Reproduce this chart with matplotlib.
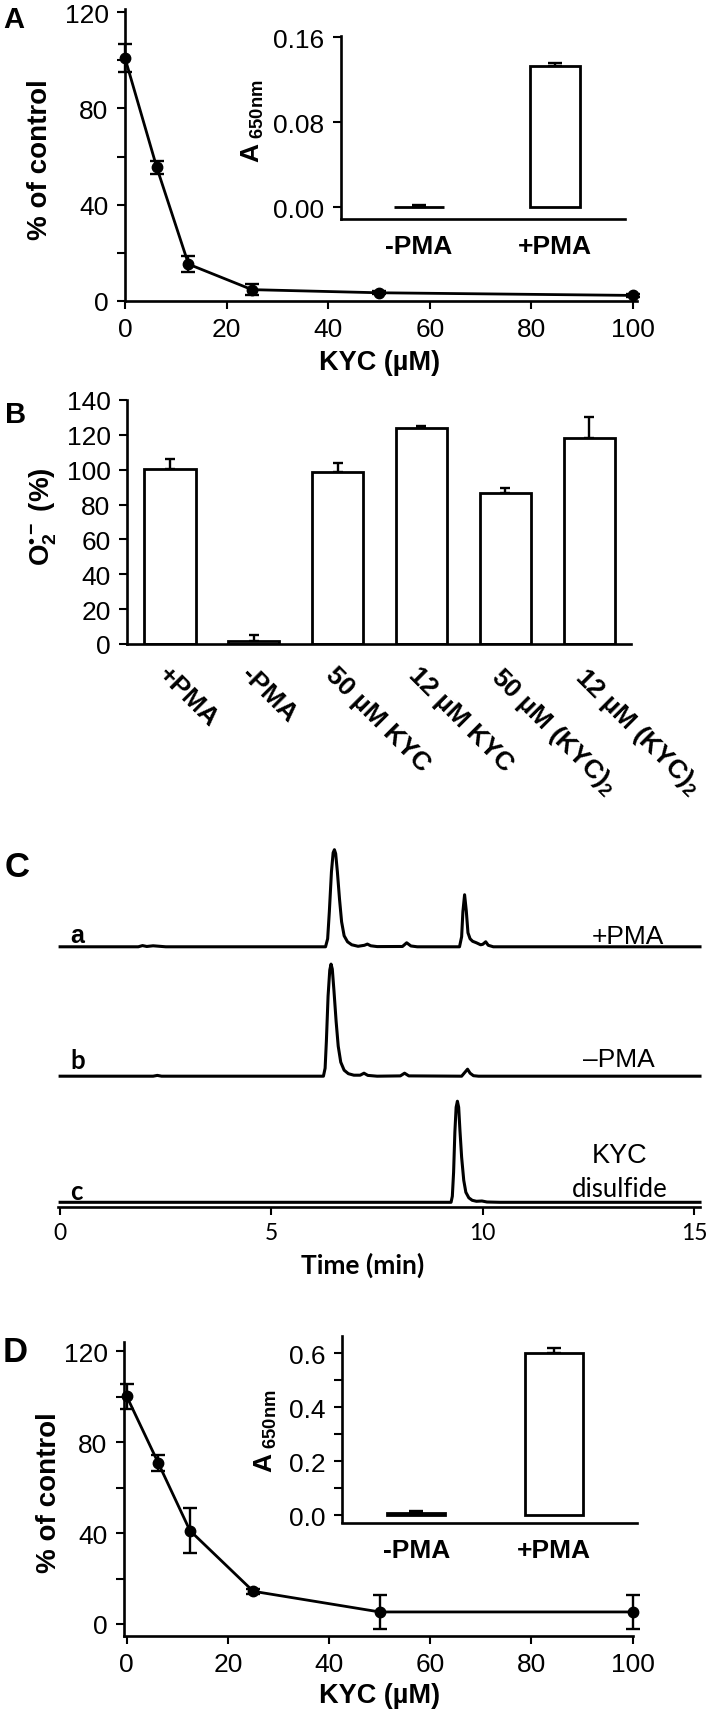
import numpy as np
import matplotlib
matplotlib.use('Agg')
import matplotlib.pyplot as plt

plt.rcParams['font.family'] = ['Liberation Sans', 'DejaVu Sans']
plt.rcParams['mathtext.fontset'] = 'custom'
plt.rcParams['mathtext.rm'] = 'Liberation Sans'
plt.rcParams['mathtext.bf'] = 'Liberation Sans:bold'
plt.rcParams['mathtext.it'] = 'Liberation Sans:italic'

W, H = 710, 1715

# ---- panel A : dose response + inset ----
kyc_a = [0, 6.25, 12.5, 25, 50, 100]
pct_a = [101, 55.5, 15.2, 4.6, 3.3, 2.2]
err_a = [5.8, 2.8, 3.4, 2.3, 0.6, 0.5]
inset_labels = ['-PMA', '+PMA']
inset_a_val = [0.0005, 0.1333]
inset_a_err = [0.0018, 0.0025]

# ---- panel B : superoxide bars ----
b_labels = ['+PMA', '-PMA', '50 µM KYC', '12 µM KYC',
            '50 µM (KYC)$_\\mathbf{2}$', '12 µM (KYC)$_\\mathbf{2}$']
b_val = [100.5, 2.0, 98.5, 124.2, 86.6, 118.1]
b_err = [5.7, 3.3, 5.2, 0.6, 2.7, 11.9]

# ---- panel C : HPLC traces (time in min, signal in arbitrary units) ----
trace_a_t = [0, 1.85, 1.95, 2.05, 2.2, 2.35, 2.5, 6.28, 6.33, 6.37, 6.42, 6.46,
             6.49, 6.52, 6.56, 6.61, 6.66, 6.72, 6.8, 6.9, 7.05, 7.2, 7.27, 7.35,
             7.5, 8.1, 8.2, 8.3, 8.45, 9.45, 9.5, 9.53, 9.57, 9.61, 9.65, 9.7,
             9.76, 9.85, 9.95, 10.0, 10.07, 10.13, 10.25, 15.14]
trace_a_s = [0, 0, 1.2, 0.3, 1.0, 0.5, 0, 0, 8, 35, 75, 94,
             97, 93, 75, 48, 25, 11, 5, 2, 0.5, 1.5, 2.7, 1,
             0.2, 0.3, 4, 0.8, 0, 0, 10, 35, 52, 36, 14, 8,
             5.5, 4, 2, 2.5, 5, 1.5, 0, 0]
trace_b_t = [0, 2.2, 2.3, 2.4, 6.23, 6.27, 6.3, 6.34, 6.38, 6.41, 6.44, 6.48,
             6.53, 6.58, 6.64, 6.72, 6.82, 6.95, 7.1, 7.19, 7.28, 7.5, 8.05,
             8.15, 8.25, 9.5, 9.58, 9.64, 9.7, 9.78, 9.9, 15.14]
trace_b_s = [0, 0, 0.8, 0, 0, 8, 35, 80, 106, 112, 107, 85,
             55, 30, 14, 6, 2.5, 1, 1, 3, 0.8, 0, 0.3,
             3, 0.3, 0, 4, 7, 3, 0.5, 0, 0]
trace_c_t = [0, 9.25, 9.28, 9.31, 9.34, 9.37, 9.4, 9.43, 9.46, 9.5, 9.55, 9.6,
             9.67, 9.75, 9.85, 9.98, 10.1, 10.4, 15.14]
trace_c_s = [0, 0, 6, 30, 70, 95, 101, 95, 72, 45, 22, 10,
             4.5, 2, 1, 1.3, 0.3, 0, 0]
trace_offsets = [255.3, 126.0, 0.0]

# ---- panel D : dose response + inset ----
kyc_d = [0, 6.25, 12.5, 25, 50, 100]
pct_d = [100.2, 70.8, 41.1, 14.4, 5.3, 5.3]
err_d = [5.5, 3.5, 10.0, 1.0, 7.3, 7.6]
inset_d_val = [0.01, 0.60]
inset_d_err = [0.006, 0.02]

fig = plt.figure(figsize=(W / 100, H / 100), dpi=100)


def box(l, t, r, b):
    return [l / W, 1 - b / H, (r - l) / W, (b - t) / H]


def ftext(x, y, s, **kw):
    return fig.text(x / W, 1 - y / H, s, **kw)


def clean(ax):
    for s in ['top', 'right']:
        ax.spines[s].set_visible(False)
    for s in ax.spines.values():
        s.set_linewidth(1.9)
    ax.tick_params(which='both', direction='out', length=5.8, width=1.5,
                   labelsize=19, pad=6)
    ax.patch.set_alpha(0)


def noclip(cont):
    for art in cont.get_children():
        art.set_clip_on(False)


def dose_panel(rect, xl, yl, x, y, e):
    ax = fig.add_axes(rect)
    clean(ax)
    c = ax.errorbar(x, y, yerr=e, fmt='-o', color='k', ms=7.5, lw=2.0,
                    elinewidth=1.7, capsize=4.7, capthick=1.7)
    noclip(c)
    ax.set_xlim(*xl)
    ax.set_ylim(*yl)
    ax.set_xticks([0, 20, 40, 60, 80, 100])
    ax.set_yticks([0, 40, 80, 120])
    ax.set_yticks([20, 60, 100], minor=True)
    return ax


def bar_inset(rect, xl, yl, vals, errs, width):
    ax = fig.add_axes(rect)
    clean(ax)
    ax.bar([0, 1], vals, width=width, color='white', edgecolor='k', lw=2.0,
           zorder=2)
    c = ax.errorbar([0, 1], vals, yerr=[[0, 0], errs], fmt='none', ecolor='k',
                    elinewidth=1.7, capsize=4.7, capthick=1.7, zorder=1)
    noclip(c)
    ax.set_xlim(*xl)
    ax.set_ylim(*yl)
    ax.set_xticks([0, 1])
    ax.set_xticklabels(inset_labels, fontweight='bold')
    ax.tick_params(axis='x', length=0, pad=11)
    return ax


# ===== A =====
axA = dose_panel(box(125, 10, 637, 301.7), (0, 100.8), (0, 121.4),
                 kyc_a, pct_a, err_a)
axAi = bar_inset(box(341, 36.7, 625, 220), (-0.574, 1.515), (-0.011, 0.1615),
                 inset_a_val, inset_a_err, 0.37)
axAi.set_yticks([0, 0.08, 0.16])
axAi.set_yticklabels(['0.00', '0.08', '0.16'])
ftext(3, 28, 'A', fontsize=21, fontweight='bold', va='baseline')
ftext(380, 370, 'KYC (µM)', fontsize=19.5, fontweight='bold', ha='center',
      va='baseline')
ftext(40, 160, '% of control', fontsize=20, fontweight='bold', rotation=90,
      ha='center', va='center')
ftext(253, 121.5, r'$\mathbf{A}_{\ \mathbf{650nm}}$', fontsize=19, rotation=90,
      ha='center', va='center')

# ===== B =====
axB = fig.add_axes(box(127, 401, 631, 645))
clean(axB)
xb = np.arange(len(b_val))
axB.bar(xb, b_val, width=0.61, color='white', edgecolor='k', lw=2.0, zorder=2)
c = axB.errorbar(xb, b_val, yerr=[np.zeros(len(b_err)), b_err], fmt='none',
                 ecolor='k', elinewidth=1.7, capsize=3.8, capthick=1.7, zorder=1)
noclip(c)
axB.set_xlim(-0.513, 5.5)
axB.set_ylim(0, 140)
axB.set_yticks(np.arange(0, 141, 20))
axB.set_xticks(xb)
axB.set_xticklabels(b_labels, rotation=-45, ha='left', va='top',
                    rotation_mode='anchor', fontweight='bold')
axB.tick_params(axis='x', length=0, pad=13)
ftext(5, 423, 'B', fontsize=21, fontweight='bold', va='baseline')
ftext(43, 517, r'$\mathbf{O}_{\mathbf{2}}^{\mathbf{•-}}$ (%)', fontsize=20,
      fontweight='bold', rotation=90, ha='center', va='center')

# ===== C =====
axC = fig.add_axes(box(58, 840, 700, 1208.3))
for s in ['top', 'right', 'left']:
    axC.spines[s].set_visible(False)
axC.spines['bottom'].set_linewidth(1.9)
for tt, ss, off in zip([trace_a_t, trace_b_t, trace_c_t],
                       [trace_a_s, trace_b_s, trace_c_s], trace_offsets):
    axC.plot(tt, np.array(ss) + off, color='k', lw=2.2,
             solid_joinstyle='round', clip_on=False)
axC.set_xlim(-0.05, 15.14)
axC.set_ylim(-5, 363)
axC.set_yticks([])
axC.set_xticks([0, 5, 10, 15])
axC.tick_params(axis='x', direction='out', length=5.8, width=1.5,
                labelsize=16.5, pad=5, labelfontfamily='Lato')
axC.patch.set_alpha(0)
ftext(5, 877, 'C', fontsize=25, fontweight='bold', va='baseline')
ftext(363, 1274, 'Time (min)', fontsize=19, fontweight='bold', ha='center',
      va='baseline', family='Lato')
ftext(70, 943, 'a', fontsize=18, fontweight='bold', va='baseline')
ftext(70, 1069, 'b', fontsize=18.5, fontweight='bold', va='baseline',
      family='Lato')
ftext(70, 1200, 'c', fontsize=18.5, fontweight='bold', va='baseline',
      family='Lato')
ftext(664, 944, '+PMA', fontsize=19, ha='right', va='baseline')
ftext(655, 1067, '–PMA', fontsize=19, ha='right', va='baseline')
ftext(620, 1163, 'KYC', fontsize=19.5, ha='center', va='baseline')
ftext(620, 1197, 'disulfide', fontsize=18.5, ha='center', va='baseline',
      family='Lato')

# ===== D =====
axD = dose_panel(box(124, 1342.7, 632.7, 1636.7), (-0.53, 100.0),
                 (-5.15, 124.2), kyc_d, pct_d, err_d)
axDi = bar_inset(box(341.7, 1336.7, 637, 1523.5), (-0.54, 1.60),
                 (-0.026, 0.664), inset_d_val, inset_d_err, 0.42)
axDi.set_yticks([0, 0.2, 0.4, 0.6])
axDi.set_yticklabels(['0.0', '0.2', '0.4', '0.6'])
axDi.set_yticks([0.1, 0.3, 0.5], minor=True)
ftext(3, 1362, 'D', fontsize=25, fontweight='bold', va='baseline')
ftext(380, 1703, 'KYC (µM)', fontsize=19.5, fontweight='bold', ha='center',
      va='baseline')
ftext(49, 1493, '% of control', fontsize=20, fontweight='bold', rotation=90,
      ha='center', va='center')
ftext(266, 1431, r'$\mathbf{A}_{\ \mathbf{650nm}}$', fontsize=19, rotation=90,
      ha='center', va='center')

fig.savefig('out.png', dpi=100)
